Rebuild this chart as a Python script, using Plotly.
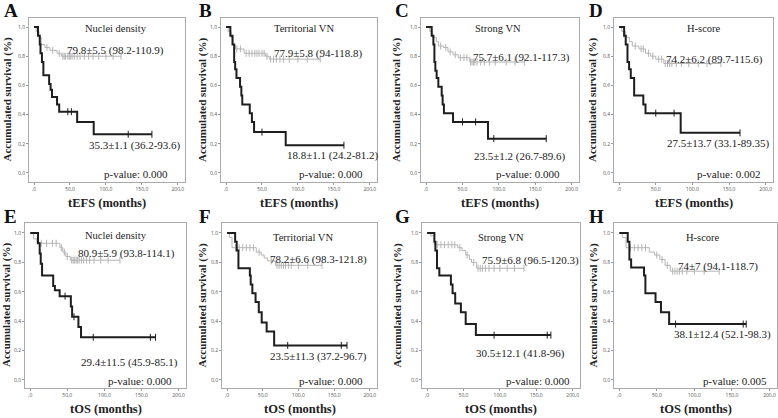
import numpy as np
import plotly.graph_objects as go
from plotly.subplots import make_subplots

# panel text
panel_letters = ['A', 'B', 'C', 'D', 'E', 'F', 'G', 'H']
panel_titles = ['Nuclei density', 'Territorial VN', 'Strong VN', 'H-score',
                'Nuclei density', 'Territorial VN', 'Strong VN', 'H-score']
x_titles = ['tEFS (months)'] * 4 + ['tOS (months)'] * 4
gray_labels = ['79.8±5.5 (98.2-110.9)', '77.9±5.8 (94-118.8)', '75.7±6.1 (92.1-117.3)',
               '74.2±6.2 (89.7-115.6)', '80.9±5.9 (93.8-114.1)', '78.2±6.6 (98.3-121.8)',
               '75.9±6.8 (96.5-120.3)', '74±7 (94.1-118.7)']
black_labels = ['35.3±1.1 (36.2-93.6)', '18.8±1.1 (24.2-81.2)', '23.5±1.2 (26.7-89.6)',
                '27.5±13.7 (33.1-89.35)', '29.4±11.5 (45.9-85.1)', '23.5±11.3 (37.2-96.7)',
                '30.5±12.1 (41.8-96)', '38.1±12.4 (52.1-98.3)']
p_values = ['0.000', '0.000', '0.000', '0.002', '0.000', '0.000', '0.000', '0.005']

# black (high) group: event times, survival after each event, last follow-up, censored times
black_times = [
    [0, 5.5, 8, 9, 11, 13, 21, 23, 25, 32, 35, 60, 83],
    [0, 6, 9, 11.3, 12.7, 14.5, 19.5, 21.3, 22.6, 33, 36, 39, 83],
    [0, 7.7, 10, 11.4, 12.7, 14.5, 16.8, 21.4, 22.7, 24.5, 37, 85],
    [0, 6.8, 9, 11.4, 13.6, 15.9, 20.5, 33, 36, 84],
    [0, 10.5, 12.8, 14.2, 16, 31, 33.3, 39.7, 54.8, 56.5, 65, 68.5],
    [0, 11.4, 13.6, 16, 32, 33.2, 35.5, 40, 44.5, 48.6, 55.5, 66],
    [0, 10, 11.4, 13.6, 16.8, 32.7, 35, 38.6, 46.4, 53, 67],
    [0, 11.3, 13.5, 15.8, 33, 34.8, 48.3, 55.5, 66.4],
]
black_surv = [
    [1, .94, .88, .82, .76, .67, .61, .57, .52, .47, .42, .35, .265],
    [1, .94, .88, .76, .71, .65, .59, .53, .47, .41, .35, .28, .19],
    [1, .94, .88, .76, .70, .65, .59, .53, .47, .41, .35, .235],
    [1, .94, .88, .76, .71, .65, .53, .47, .41, .275],
    [1, .93, .86, .79, .71, .64, .61, .57, .50, .43, .36, .29],
    [1, .94, .88, .76, .71, .65, .59, .53, .46, .39, .33, .235],
    [1, .94, .88, .76, .71, .65, .59, .52, .46, .38, .305],
    [1, .94, .82, .765, .71, .59, .53, .46, .38],
]
black_end = [164, 164, 165, 165, 169, 168, 170, 169]
black_censor = [
    [47, 52, 131, 164],
    [50, 164],
    [50, 68, 93, 165],
    [50, 75, 165],
    [47, 59, 85, 162, 169],
    [85, 160, 168],
    [92, 165, 170],
    [75, 165, 169],
]

# gray (low) group
gray_times = [
    [0, 3, 7, 10, 15, 22, 32, 38],
    [0, 3, 7, 10, 13, 25, 55, 60],
    [0, 5, 9, 14, 17, 24, 30, 37, 44, 60],
    [0, 3.5, 9, 14, 18, 27, 36, 43, 50, 61],
    [0, 4.5, 9, 40, 44, 48, 54],
    [0, 3.5, 7, 41, 48, 52, 57, 68],
    [0, 5, 10, 42, 48, 53, 58, 61, 68],
    [0, 4, 9, 40, 47, 54, 61, 68],
]
gray_surv = [
    [1, .97, .93, .88, .86, .84, .82, .80],
    [1, .97, .93, .88, .85, .82, .80, .78],
    [1, .97, .93, .90, .87, .86, .83, .81, .79, .76],
    [1, .97, .93, .90, .87, .85, .82, .80, .78, .75],
    [1, .96, .93, .90, .87, .84, .815],
    [1, .97, .90, .87, .85, .83, .81, .78],
    [1, .98, .92, .90, .88, .85, .82, .80, .76],
    [1, .97, .90, .87, .85, .82, .78, .74],
]
gray_end = [121, 131, 135, 139, 121, 133, 133, 133]
gray_censor = [
    [18, 26, 35, 40, 42, 44, 47, 49, 51, 53, 56, 60, 64, 70, 76, 82, 90, 100, 110, 121],
    [15, 20, 28, 32, 36, 40, 43, 46, 50, 53, 57, 62, 66, 70, 75, 80, 88, 100, 113, 131],
    [20, 27, 33, 40, 47, 52, 56, 61, 63, 65, 67, 70, 75, 80, 87, 95, 110, 122, 135],
    [22, 30, 33, 40, 46, 54, 58, 63, 66, 69, 72, 78, 85, 95, 108, 120, 139],
    [15, 22, 30, 35, 42, 46, 50, 56, 58, 60, 62, 64, 66, 69, 72, 76, 80, 86, 95, 105, 121],
    [12, 17, 22, 27, 32, 37, 45, 62, 70, 73, 76, 79, 82, 86, 90, 100, 113, 133],
    [14, 19, 24, 29, 34, 38, 45, 55, 64, 70, 73, 76, 80, 85, 92, 100, 110, 120, 133],
    [15, 20, 25, 30, 35, 50, 57, 64, 71, 74, 77, 80, 84, 90, 100, 113, 133],
]

W, H = 778, 418
# plot boxes in pixels: left, right, top, bottom
boxes = [(29, 185, 18, 182), (221, 377, 18, 182), (421, 579, 18, 182), (614, 773, 18, 182),
         (25, 186, 223, 388), (222, 377, 223, 388), (422, 580, 223, 388), (614, 777, 223, 388)]
ytitle_x = [6.5, 202, 396, 592, 6.5, 202, 397, 593]
xtitle_gap = [21] * 8
letter_x = [2, 197, 393, 587, 2, 197, 393, 587]
yranges = [[-0.062, 1.062]] * 4 + [[-0.055, 1.068]] * 4
# text anchors (data coords): title (center), gray label (left), black label (left), p-value (right)
title_pos = [(114, 0.99), (108, 0.99), (99, 0.99), (116, 0.99),
             (116, 0.98), (106, 0.97), (102, 0.97), (111, 0.97)]
gray_pos = [(43, 0.84), (64, 0.82), (61, 0.79), (61, 0.78),
            (62, 0.86), (58, 0.82), (72, 0.81), (76, 0.77)]
black_pos = [(73, 0.185), (82, 0.12), (63, 0.11), (62, 0.2),
             (66, 0.12), (58, 0.16), (64, 0.18), (70, 0.31)]
p_pos = [(189, -0.01), (193, -0.01), (186, -0.01), (197, -0.01),
         (194, -0.01), (193, -0.01), (199, -0.01), (199, -0.01)]

SERIF = 'Liberation Serif'


def step_value(times, surv, t):
    i = np.searchsorted(np.array(times), t, side='right') - 1
    return surv[max(i, 0)]


fig = make_subplots(rows=2, cols=4)
annotations = []
for k in range(8):
    r, c = k // 4 + 1, k % 4 + 1
    for times, surv, end, cens, color, width in [
            (gray_times[k], gray_surv[k], gray_end[k], gray_censor[k], '#b4b4b4', 1),
            (black_times[k], black_surv[k], black_end[k], black_censor[k], '#1e1e1e', 2)]:
        fig.add_trace(go.Scatter(x=list(times) + [end], y=list(surv) + [surv[-1]],
                                 mode='lines', line=dict(color=color, width=width, shape='hv'),
                                 showlegend=False, hoverinfo='skip'), row=r, col=c)
        fig.add_trace(go.Scatter(x=cens, y=[step_value(times, surv, t) for t in cens],
                                 mode='markers',
                                 marker=dict(symbol='line-ns', size=5,
                                             line=dict(color=color, width=1)),
                                 showlegend=False, hoverinfo='skip'), row=r, col=c)

    sfx = '' if k == 0 else str(k + 1)
    xa, ya = 'x' + sfx, 'y' + sfx
    l, rr, t, b = boxes[k]
    fig.layout['xaxis' + sfx].update(domain=[l / W, rr / W])
    fig.layout['yaxis' + sfx].update(domain=[1 - b / H, 1 - t / H], range=yranges[k])

    fnt = dict(family=SERIF, size=11, color='#222')
    annotations.append(dict(x=title_pos[k][0], y=title_pos[k][1], xref=xa, yref=ya,
                            text=panel_titles[k], showarrow=False, xanchor='center',
                            font=dict(family=SERIF, size=10.5, color='#222')))
    annotations.append(dict(x=gray_pos[k][0], y=gray_pos[k][1], xref=xa, yref=ya,
                            text=gray_labels[k], showarrow=False, xanchor='left', font=fnt))
    annotations.append(dict(x=black_pos[k][0], y=black_pos[k][1], xref=xa, yref=ya,
                            text=black_labels[k], showarrow=False, xanchor='left', font=fnt))
    annotations.append(dict(x=p_pos[k][0], y=p_pos[k][1], xref=xa, yref=ya,
                            text='p-value: ' + p_values[k], showarrow=False, xanchor='right',
                            font=fnt))
    # axis titles and panel letter, paper coords
    annotations.append(dict(x=ytitle_x[k] / W, y=1 - (t + b) / 2 / H, xref='paper', yref='paper',
                            text='<b>Accumulated survival (%)</b>', textangle=-90,
                            showarrow=False, xanchor='center', yanchor='middle',
                            font=dict(family=SERIF, size=11, color='#222')))
    annotations.append(dict(x=(l + rr) / 2 / W, y=1 - (b + xtitle_gap[k]) / H,
                            xref='paper', yref='paper',
                            text='<b>' + x_titles[k] + '</b>', showarrow=False,
                            xanchor='center', yanchor='middle',
                            font=dict(family=SERIF, size=12.5, color='#222')))
    annotations.append(dict(x=letter_x[k] / W, y=1 - (t - 7) / H, xref='paper', yref='paper',
                            text='<b>' + panel_letters[k] + '</b>', showarrow=False,
                            xanchor='left', yanchor='middle',
                            font=dict(family=SERIF, size=19, color='#111')))

fig.update_xaxes(range=[-7, 210], tickvals=[0, 50, 100, 150, 200],
                 ticktext=[',0', '50,0', '100,0', '150,0', '200,0'],
                 ticks='outside', ticklen=2, tickcolor='#999', tickfont=dict(size=5, color='#555'),
                 showline=True, mirror=True, linecolor='#aaa', linewidth=1,
                 showgrid=False, zeroline=False)
fig.update_yaxes(tickvals=[0, 0.2, 0.4, 0.6, 0.8, 1.0],
                 ticktext=['0,0', '0,2', '0,4', '0,6', '0,8', '1,0'],
                 ticks='outside', ticklen=2, tickcolor='#999', tickfont=dict(size=5, color='#555'),
                 showline=True, mirror=True, linecolor='#aaa', linewidth=1,
                 showgrid=False, zeroline=False)

fig.update_layout(width=W, height=H, margin=dict(l=0, r=0, t=0, b=0),
                  paper_bgcolor='white', plot_bgcolor='white',
                  annotations=annotations, showlegend=False)
# page body has a default 8px margin; remove it so the figure fills the window
fig.write_html('out.html', config={'displayModeBar': False},
               post_script="document.body.style.margin='0';")
